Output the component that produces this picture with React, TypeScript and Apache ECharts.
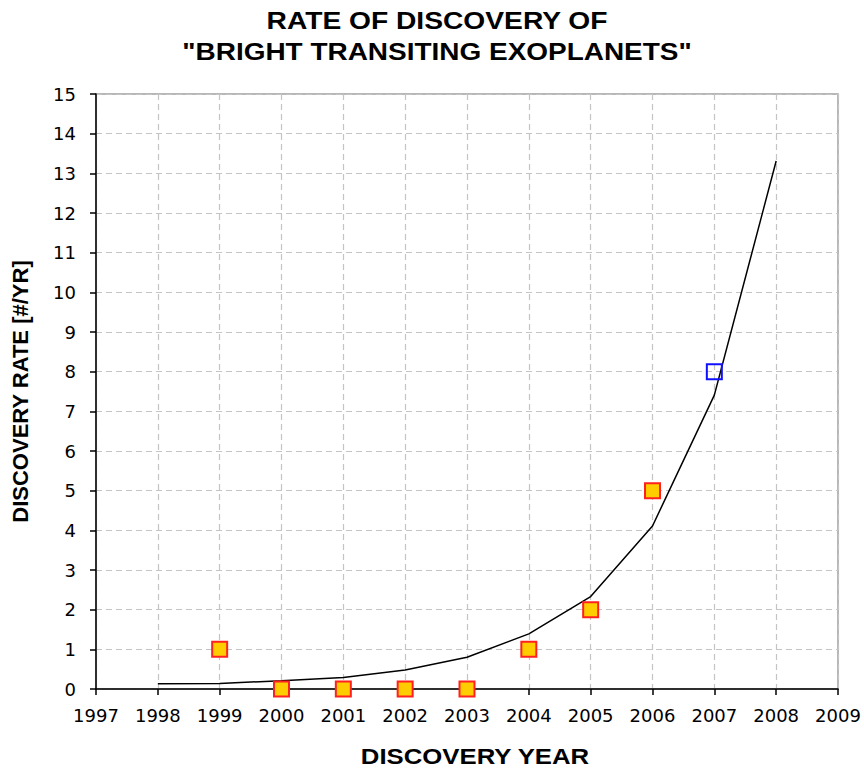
import React, { useEffect, useRef } from "react";
import * as echarts from "echarts";

const titleLines = ["RATE OF DISCOVERY OF", "\"BRIGHT TRANSITING EXOPLANETS\""];
const xAxisName = "DISCOVERY YEAR";
const yAxisName = "DISCOVERY RATE [#/YR]";

const fitYears = [1998, 1999, 2000, 2001, 2002, 2003, 2004, 2005, 2006, 2007, 2008];
const fitRates = [0.13, 0.14, 0.21, 0.29, 0.48, 0.8, 1.39, 2.33, 4.11, 7.41, 13.31];

const observedYears = [1999, 2000, 2001, 2002, 2003, 2004, 2005, 2006];
const observedRates = [1, 0, 0, 0, 0, 1, 2, 5];

const predictedYears = [2007];
const predictedRates = [8];

export default function App() {
  const ref = useRef<HTMLDivElement>(null);
  useEffect(() => {
    if (!ref.current) return;
    const chart = echarts.init(ref.current, null, { renderer: "svg" });
    const tickFont = "'DejaVu Sans', sans-serif";
    const boldFont = "'Liberation Sans', Arial, sans-serif";
    chart.setOption({
      animation: false,
      backgroundColor: "#ffffff",
      grid: {
        left: 96,
        right: 26,
        top: 94,
        bottom: 82,
        show: true,
        borderColor: "#a0a0a0",
        borderWidth: 1.5,
        backgroundColor: "transparent",
      },
      graphic: [
        {
          type: "text",
          x: 437,
          y: 21,
          scaleX: 1.175,
          style: {
            text: titleLines[0],
            font: `bold 24px ${boldFont}`,
            fill: "#000",
            align: "center",
            verticalAlign: "middle",
          },
        },
        {
          type: "text",
          x: 437,
          y: 52,
          scaleX: 1.165,
          style: {
            text: titleLines[1],
            font: `bold 24px ${boldFont}`,
            fill: "#000",
            align: "center",
            verticalAlign: "middle",
          },
        },
        {
          type: "text",
          x: 475,
          y: 756,
          scaleX: 1.17,
          style: {
            text: xAxisName,
            font: `bold 22px ${boldFont}`,
            fill: "#000",
            align: "center",
            verticalAlign: "middle",
          },
        },
      ],
      xAxis: {
        type: "value",
        min: 1997,
        max: 2009,
        interval: 1,
        axisLine: { show: true, onZero: false, lineStyle: { color: "#000", width: 1.5 } },
        axisTick: { show: true, length: 6, lineStyle: { color: "#000", width: 1.5 } },
        axisLabel: {
          formatter: (v: number) => String(v),
          fontFamily: tickFont,
          fontSize: 18,
          color: "#000",
          margin: 17,
        },
        splitLine: { show: true, lineStyle: { color: "#c4c4c4", type: [6, 4], width: 1.2 } },
      },
      yAxis: {
        type: "value",
        min: 0,
        max: 15,
        interval: 1,
        name: yAxisName,
        nameLocation: "middle",
        nameRotate: 90,
        nameGap: 65,
        nameTextStyle: { fontFamily: boldFont, fontWeight: "bold", fontSize: 22, color: "#000" },
        axisLine: { show: true, lineStyle: { color: "#000", width: 1.5 } },
        axisTick: { show: true, length: 6, lineStyle: { color: "#000", width: 1.5 } },
        axisLabel: { fontFamily: tickFont, fontSize: 18, color: "#000", margin: 20 },
        splitLine: { show: true, lineStyle: { color: "#c4c4c4", type: [6, 4], width: 1.2 } },
      },
      series: [
        {
          type: "line",
          data: fitYears.map((y, i) => [y, fitRates[i]]),
          showSymbol: false,
          symbol: "none",
          lineStyle: { color: "#000", width: 1.5 },
          z: 3,
        },
        {
          type: "scatter",
          data: observedYears.map((y, i) => [y, observedRates[i]]),
          symbol: "rect",
          symbolSize: 15,
          clip: false,
          itemStyle: { color: "#FFCC00", borderColor: "#FF2020", borderWidth: 2, opacity: 1 },
          z: 4,
        },
        {
          type: "scatter",
          data: predictedYears.map((y, i) => [y, predictedRates[i]]),
          symbol: "rect",
          symbolSize: 15,
          clip: false,
          itemStyle: { color: "rgba(255,255,255,0)", borderColor: "#1010FF", borderWidth: 2, opacity: 1 },
          z: 4,
        },
      ],
    });
    return () => chart.dispose();
  }, []);
  return (
    <div
      ref={ref}
      style={{ position: "absolute", left: 0, top: 0, width: 864, height: 771, background: "#fff" }}
    />
  );
}
